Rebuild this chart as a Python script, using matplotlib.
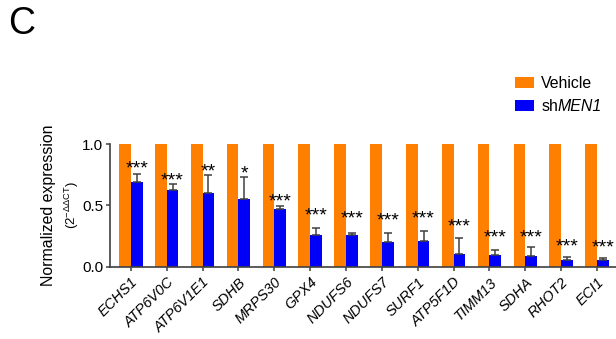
import matplotlib
matplotlib.use("Agg")
import matplotlib.pyplot as plt
import numpy as np

plt.rcParams['font.family'] = ['Liberation Sans', 'DejaVu Sans']
plt.rcParams['mathtext.fontset'] = 'custom'
plt.rcParams['mathtext.rm'] = 'Liberation Sans'
plt.rcParams['mathtext.it'] = 'Liberation Sans:italic'

genes = ["ECHS1", "ATP6V0C", "ATP6V1E1", "SDHB", "MRPS30", "GPX4", "NDUFS6",
         "NDUFS7", "SURF1", "ATP5F1D", "TIMM13", "SDHA", "RHOT2", "ECI1"]
vehicle = [1.0] * 14
shmen1 = [0.694, 0.627, 0.605, 0.550, 0.474, 0.259, 0.259,
          0.202, 0.210, 0.104, 0.098, 0.087, 0.052, 0.052]
shmen1_err = [0.060, 0.050, 0.140, 0.180, 0.022, 0.055, 0.020,
              0.070, 0.080, 0.130, 0.040, 0.070, 0.030, 0.022]
significance = ["***", "***", "**", "*", "***", "***", "***",
                "***", "***", "***", "***", "***", "***", "***"]
# height of each significance mark (data units)
star_heights = [0.79, 0.69, 0.765, 0.75, 0.52, 0.405, 0.38,
                0.365, 0.38, 0.316, 0.226, 0.226, 0.153, 0.145]

ORANGE = "#FF8000"
BLUE = "#0000F8"
AXIS = "#404040"

fig = plt.figure(figsize=(6.16, 3.39), dpi=100)
ax = fig.add_axes([0.1786, 0.2133, 0.8244, 0.3611])

x = np.arange(len(genes))
w = 0.326
ax.bar(x - w / 2, vehicle, width=w, color=ORANGE, label="Vehicle", zorder=2)
ax.bar(x + w / 2, shmen1, width=w, color=BLUE, label="sh", zorder=2)
ax.errorbar(x + w / 2, shmen1, yerr=[np.zeros(len(shmen1)), shmen1_err],
            fmt="none", ecolor=AXIS, elinewidth=1.1, capsize=3, capthick=1.1, zorder=3)

for xi, s, h in zip(x, significance, star_heights):
    ax.text(xi + w / 2, h - 0.03, s, ha="center", va="baseline", fontsize=14,
            color="black", clip_on=False)

ax.set_xlim(-0.58, len(genes) - 1 + 0.58)
ax.set_ylim(0, 1.0)
ax.set_yticks([0.0, 0.5, 1.0])
ax.set_yticklabels(["0.0", "0.5", "1.0"], fontsize=11)
ax.set_xticks(x)
ax.set_xticklabels(genes, rotation=45, ha="right", va="top", rotation_mode="anchor",
                   fontsize=10.5, fontstyle="italic")
ax.tick_params(axis="both", direction="out", length=3, width=1.1, color=AXIS, pad=2)
ax.tick_params(axis="x", pad=3)
for side in ("top", "right"):
    ax.spines[side].set_visible(False)
for side in ("left", "bottom"):
    ax.spines[side].set_color(AXIS)
    ax.spines[side].set_linewidth(1.2)

ylab_y = 0.394
fig.text(0.079, ylab_y, "Normalized expression", rotation=90, ha="center",
         va="center", fontsize=11.4)
fig.text(0.117, ylab_y, "(2$^{\\mathregular{-ΔΔCT}}$)", rotation=90, ha="center",
         va="center", fontsize=9.5)

fig.text(0.014, 0.982, "C", fontsize=27, ha="left", va="top")

leg = fig.legend(loc="upper left", bbox_to_anchor=(0.836, 0.775), frameon=False,
                 fontsize=11.4, handlelength=1.2, handleheight=0.7, handletextpad=0.45,
                 labelspacing=0.5, borderaxespad=0, borderpad=0)

# italic gene name after the "sh" prefix
fig.canvas.draw()
sh_text = leg.get_texts()[1]
bb = sh_text.get_window_extent(fig.canvas.get_renderer())
inv = fig.transFigure.inverted()
x1, y0 = inv.transform((bb.x1, bb.y0))
fig.text(x1, y0, "MEN1", fontsize=11.4, fontstyle="italic", ha="left",
         va="bottom")

fig.savefig("out.png", dpi=100)
